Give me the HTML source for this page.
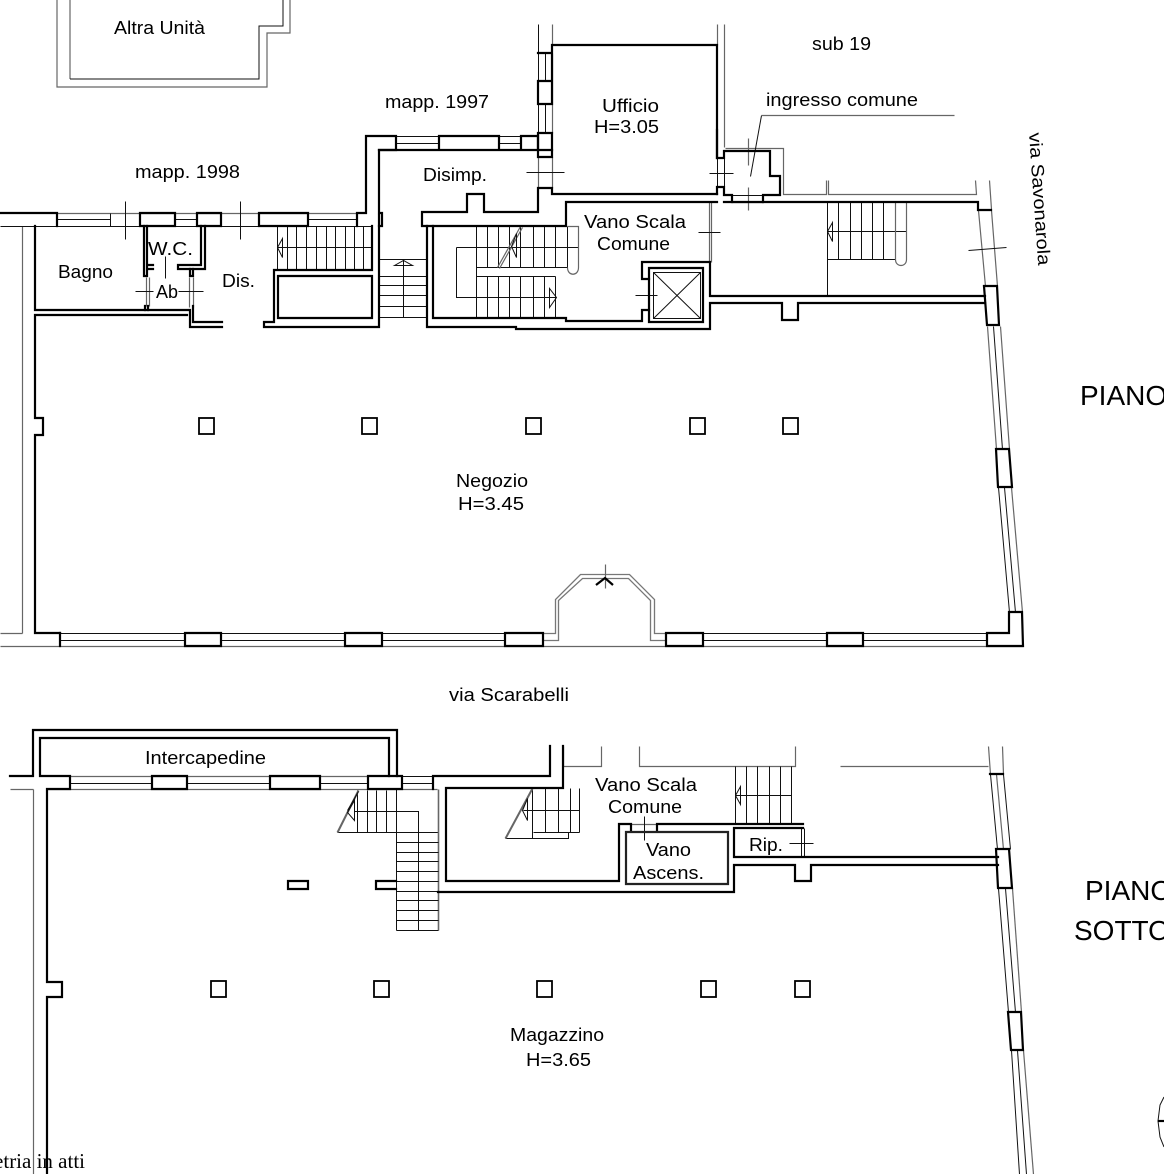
<!DOCTYPE html>
<html><head><meta charset="utf-8">
<style>
html,body{margin:0;padding:0;background:#fff;width:1164px;height:1174px;overflow:hidden}
svg{display:block}
.k{fill:none;stroke:#000;stroke-width:2.2;stroke-linecap:square}
.n{fill:none;stroke:#111;stroke-width:1}
.g{fill:none;stroke:#666;stroke-width:1.2}
.h{fill:none;stroke:#777;stroke-width:1.3}
text{font-family:"Liberation Sans",sans-serif;font-size:18px;fill:#000}
</style></head><body>
<svg width="1164" height="1174" viewBox="0 0 1164 1174" xmlns="http://www.w3.org/2000/svg">
<rect width="1164" height="1174" fill="#fff"/>

<!-- Altra Unita -->
<path class="g" d="M57 0V87H267V33H290V0M70 0V79"/>
<path class="n" d="M70 79H259V26H283V0"/>

<!-- ground floor thin lines -->
<g transform="translate(.5,.5)">
<path class="g" d="M22 226V633M0 633H22M0 646H1023M57 213H357"/>
<path class="n" d="M0 226H372M57 219H110M175 219H197M308 219H357M110 213V226M308 213V226M125 201V239M240 201V239"/>
<!-- windows top -->
<path class="n" d="M396 143H439M499 143H521M396 136H439M499 136H521"/>
<path class="n" d="M545 53V81M545 104V133M538 24V53M538 81V53M538 104V133"/>
<path class="g" d="M552 24V45M717 24V45M724 24V147M552 53V133M538 157V188M552 157V188"/>
<path class="n" d="M526 172H564M709 173H733M717 158V187M724 158V187"/>
<!-- ingresso -->
<path class="g" d="M725 148H783V194H826V180M828 180V194H976L975 180M989 180L991 209"/>
<path class="n" d="M750 176L761 115"/>
<path class="g" d="M761 115H954M748 138V165M748 187V210M732 202H763"/>
<path class="n" d="M732 195H763"/>
<path class="g" d="M709 202V262M711 202V262"/>
<path class="n" d="M698 232H720M635 295H657"/>
<!-- right stairs -->
<path class="n" d="M827 202V295M838 202V259M850 202V259M861 202V259M872 202V259M883 202V259M827 231H906M827 259H895"/>
<path class="g" d="M895 202V259C895 267 906 267 906 259V202"/>
<path class="n" d="M827 231L832 222V241Z"/>
<!-- slanted wall -->
<path class="g" d="M978 210L985 286M991 210L997 286"/>
<path class="n" d="M968 250L1006 247"/>
<path class="g" d="M987 326L996 449M1000 326L1009 449"/>
<path class="n" d="M993 326L1002 449"/>
<path class="n" d="M998 487L1009 612M1004 487L1015 612"/>
<path class="g" d="M1011 487L1022 612"/>
<!-- bottom windows -->
<path class="n" d="M60 633H185M60 640H185M221 633H345M221 640H345M382 633H505M382 640H505M703 633H827M703 640H827M863 633H987M863 640H987"/>
<path class="h" d="M543 633H555V599L580 574H629L654 599V633H666"/>
<path class="h" d="M543 640H558V600L582 578H628L650 600V640H666"/>
<path class="g" d="M605 564V588"/>
<!-- stairs -->
<path class="n" d="M287 226V269M296 226V269M306 226V269M316 226V269M326 226V269M335 226V269M345 226V269M354 226V269M363 226V269M277 247H372M277 226V269"/>
<path class="n" d="M277 247L282 238V257Z"/>
<path class="n" d="M379 259H427M379 276H427M379 285H427M379 295H427M379 306H427M379 317H427M403 259V317"/>
<path class="n" d="M394 265L403 260L412 265Z"/>
<path class="n" d="M476 226V318M487 226V267M498 226V267M509 226V267M520 226V267M533 226V267M544 226V267M555 226V267M567 226V267M487 276V318M498 276V318M509 276V318M520 276V318M533 276V318M544 276V318M555 276V318"/>
<path class="n" d="M456 247H578M456 247V297H555M476 267H567M476 276H555"/>
<path class="g" d="M567 226H578V267C578 276 567 276 567 267"/>
<path class="g" d="M497 267L520 226M499 268L522 227"/>
<path class="n" d="M511 246L516 233L516 257ZM556 297L549 288V307Z"/>
<path class="n" d="M653 272H700V318H653ZM653 272L700 318M700 272L653 318"/>
<!-- Ab thin -->
<path class="g" d="M146 277V306M149 277V306M189 277V307M193 277V307"/>
<path class="n" d="M153 291H135M178 291H203M165 256V278"/>
<!-- basement thin -->
<path class="g" d="M10 789H33M33 789V1174M47 789H437M70 776H368"/>
<path class="n" d="M70 783H152M187 783H270M320 783H368M402 783H433M402 776H433"/>
<path class="n" d="M357 790V832M367 790V832M376 790V832M386 790V832M396 789V930M354 811H418V930M337 832H438"/>
<path class="g" d="M438 789V930" style="stroke-width:1.6"/>
<path class="n" d="M396 842H438M396 852H438M396 861H438M396 871H438M396 881H438M396 891H438M396 900H438M396 910H438M396 920H438M396 930H438"/>
<path class="g" d="M337 832L358 790" style="stroke-width:2"/>
<path class="n" d="M347 812L354 800V820ZM347 810L358 791"/>
<path class="g" d="M563 746V766H601V746M639 746V766H795V746M840 766H988M988 746L990 774M1002 746L1003 774M631 824H657"/>
<path class="n" d="M532 788V838M545 788V832M558 788V832M570 788V832M579 788V832M523 810H579M505 838H568V832M533 832H579"/>
<path class="g" d="M505 838L532 788" style="stroke-width:2"/>
<path class="n" d="M522 810L527 798V820Z"/>
<path class="n" d="M735 766V824M746 766V824M757 766V824M769 766V824M780 766V824M791 766V824M735 795H791M735 795L740 786V804Z"/>
<path class="n" d="M644 816V840M789 843H813"/>
<path class="n" d="M801 828V857M804 828V857"/>
<path class="n" d="M990 774L997 849"/>
<path class="n" d="M1003 774L1010 849"/>
<path class="g" d="M996 774L1003 849"/>
<path class="n" d="M998 888L1008 1012M1005 888L1015 1012"/>
<path class="g" d="M1012 888L1021 1012"/>
<path class="n" d="M1011 1050L1019 1174M1017 1050L1026 1174"/>
<path class="g" d="M1023 1050L1033 1174"/>
</g>

<!-- ground floor thick -->
<path class="k" d="M0 213H57V226M140 213H175V226H140ZM197 213H221V226H197ZM259 213H308V226H259Z"/>
<path class="k" d="M35 226V310H188M35 315V418H43V435H35V633H60M35 315H187"/>
<path class="k" d="M144 226V276H147V226M149 265H153M178 265H201V226M205 226V269H178V265M149 269H153"/>
<path class="k" d="M190 269V276H193V269M145 306V310M148 306V310"/>
<path class="k" d="M190 310V327H222M193 306V322H222"/>
<path class="k" d="M274 322V270H372M278 276H372V318H278ZM264 322H274M264 322V327H379V215M372 226V269"/>
<path class="k" d="M357 226V213H366V136H396V150H379V213H382V226H379"/>
<path class="k" d="M439 136H499V150H439ZM521 136H538V150H521ZM379 150H552"/>
<path class="k" d="M538 53H552M538 81H552V104H538ZM538 133H552V157H538ZM552 45H717V158M552 45V104M552 133V157"/>
<path class="k" d="M538 188H552V194H717M538 188V212H484V194H467V212H422V226H433"/>
<path class="k" d="M427 226V327H516V329H710V304M433 226H566V202H717M433 226V318H566V321H642V310H649M642 262H710V296H985M642 262V279H649M710 303H782V320H798V303H985"/>
<path class="k" d="M649 268H703V322H649V268"/>
<path class="k" d="M717 130V158H724V151H770V176H780V195H763V202M732 202V195H724M717 187V194M724 187V194M717 187H724"/>
<path class="k" d="M724 202H978V210H991"/>
<path class="k" d="M984 286H997L999 325H987L984 286"/>
<path class="k" d="M996 449H1009L1012 487H998ZM1009 612H1022L1023 646H987V633H1009V612"/>
<path class="k" d="M60 633V646M185 633H221V646H185ZM345 633H382V646H345ZM505 633H543V646H505ZM666 633H703V646H666ZM827 633H863V646H827Z"/>
<path class="k" d="M596 585L605 578L613 585" style="stroke-linecap:butt"/>
<g class="k" style="stroke-width:1.8">
<rect x="199" y="418" width="15" height="16"/>
<rect x="362" y="418" width="15" height="16"/>
<rect x="526" y="418" width="15" height="16"/>
<rect x="690" y="418" width="15" height="16"/>
<rect x="783" y="418" width="15" height="16"/>
</g>

<!-- basement thick -->
<path class="k" d="M10 776H33V730H397V776M40 776V738H389V776M40 776H70V789H47M47 789V982H62V997H47V1174"/>
<path class="k" d="M152 776H187V789H152ZM270 776H320V789H270ZM368 776H402V789H368ZM433 776V789M433 776H550V746M446 789V881H619V824H631V831M563 746V788H446M657 831V824H803"/>
<path class="k" d="M288 881H308V889H288ZM396 881H376V889H396"/>
<path class="k" d="M438 892H734V865H795V881H811V865H998M734 857V828H803M734 857H998"/>
<path class="k" d="M626 832H728V884H626Z" style="stroke:#222"/>
<path class="k" d="M990 774H1003M996 849H1009L1012 888H998ZM1008 1012H1021L1023 1050H1011Z"/>
<g class="k" style="stroke-width:1.8">
<rect x="211" y="981" width="15" height="16"/>
<rect x="374" y="981" width="15" height="16"/>
<rect x="537" y="981" width="15" height="16"/>
<rect x="701" y="981" width="15" height="16"/>
<rect x="795" y="981" width="15" height="16"/>
</g>

<!-- north symbol -->
<path class="n" d="M1164 1097L1160 1105L1158 1121L1160 1137L1164 1147"/>
<path class="k" d="M1159 1121H1164"/>

<!-- labels -->
<text x="114" y="34" textLength="91" lengthAdjust="spacingAndGlyphs">Altra Unità</text>
<text x="812" y="50" textLength="59" lengthAdjust="spacingAndGlyphs">sub 19</text>
<text x="385" y="108" textLength="104" lengthAdjust="spacingAndGlyphs">mapp. 1997</text>
<text x="602" y="112" textLength="57" lengthAdjust="spacingAndGlyphs">Ufficio</text>
<text x="594" y="133" textLength="65" lengthAdjust="spacingAndGlyphs">H=3.05</text>
<text x="766" y="106" textLength="152" lengthAdjust="spacingAndGlyphs">ingresso comune</text>
<text x="135" y="178" textLength="105" lengthAdjust="spacingAndGlyphs">mapp. 1998</text>
<text x="423" y="181" textLength="64" lengthAdjust="spacingAndGlyphs">Disimp.</text>
<text x="148" y="255" textLength="45" lengthAdjust="spacingAndGlyphs">W.C.</text>
<text x="58" y="278" textLength="55" lengthAdjust="spacingAndGlyphs">Bagno</text>
<text x="222" y="287" textLength="33" lengthAdjust="spacingAndGlyphs">Dis.</text>
<text x="156" y="298" textLength="22" lengthAdjust="spacingAndGlyphs">Ab</text>
<text x="584" y="228" textLength="102" lengthAdjust="spacingAndGlyphs">Vano Scala</text>
<text x="597" y="250" textLength="73" lengthAdjust="spacingAndGlyphs">Comune</text>
<text transform="translate(1029,133) rotate(86)" textLength="133" lengthAdjust="spacingAndGlyphs">via Savonarola</text>
<text x="1080" y="405" style="font-size:28px">PIANO</text>
<text x="1085" y="900" style="font-size:28px">PIANO</text>
<text x="1074" y="940" style="font-size:28px">SOTTO</text>
<text x="456" y="487" textLength="72" lengthAdjust="spacingAndGlyphs">Negozio</text>
<text x="458" y="510" textLength="66" lengthAdjust="spacingAndGlyphs">H=3.45</text>
<text x="449" y="701" textLength="120" lengthAdjust="spacingAndGlyphs">via Scarabelli</text>
<text x="145" y="764" textLength="121" lengthAdjust="spacingAndGlyphs">Intercapedine</text>
<text x="595" y="791" textLength="102" lengthAdjust="spacingAndGlyphs">Vano Scala</text>
<text x="608" y="813" textLength="74" lengthAdjust="spacingAndGlyphs">Comune</text>
<text x="646" y="856" textLength="45" lengthAdjust="spacingAndGlyphs">Vano</text>
<text x="633" y="879" textLength="71" lengthAdjust="spacingAndGlyphs">Ascens.</text>
<text x="749" y="851" textLength="34" lengthAdjust="spacingAndGlyphs">Rip.</text>
<text x="510" y="1041" textLength="94" lengthAdjust="spacingAndGlyphs">Magazzino</text>
<text x="526" y="1066" textLength="65" lengthAdjust="spacingAndGlyphs">H=3.65</text>
<text x="85" y="1168" text-anchor="end" style="font-family:'Liberation Serif',serif;font-size:21px">Planimetria in atti</text>
</svg>
</body></html>
